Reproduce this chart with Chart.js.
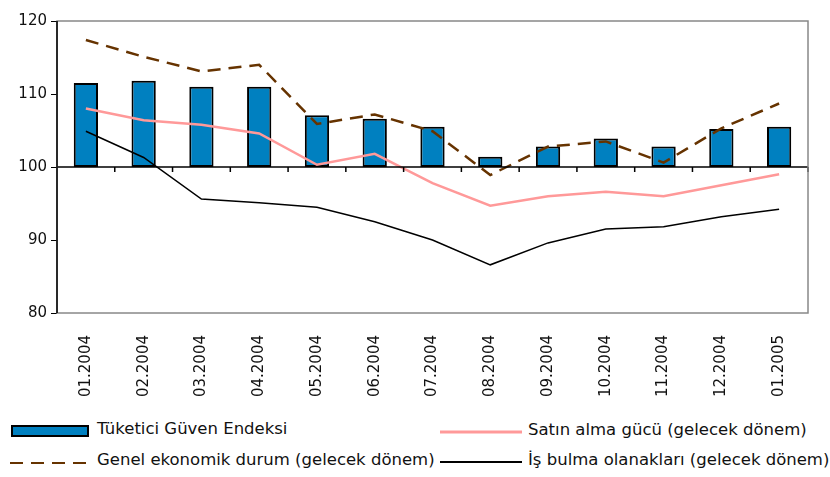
<!DOCTYPE html>
<html>
<head>
<meta charset="utf-8">
<script src="https://cdn.jsdelivr.net/npm/chart.js@4"></script>
<style>
  body { margin: 0; background: #fff; font-family: "DejaVu Sans", sans-serif; }
  #wrap { position: relative; width: 830px; height: 477px; }
  #box { position: absolute; left: 0; top: 0; width: 830px; height: 400px; }
  .leg { position: absolute; font-size: 16.5px; line-height: 20px; color: #111; white-space: nowrap; font-family: "DejaVu Sans", sans-serif; }
  .sw { position: absolute; }
</style>
</head>
<body>
<div id="wrap">
  <div id="box"><canvas id="chart"></canvas></div>
  <div class="sw" style="left:11px;top:425px;width:74px;height:8px;background:#0080C0;border:2px solid #000;"></div>
  <div class="leg" style="left:97px;top:419px;">Tüketici Güven Endeksi</div>
  <svg class="sw" style="left:440px;top:429px;" width="82" height="6"><line x1="0" y1="3" x2="82" y2="3" stroke="#FF9999" stroke-width="3"/></svg>
  <div class="leg" style="left:528px;top:420px;">Satın alma gücü (gelecek dönem)</div>
  <svg class="sw" style="left:10px;top:460px;" width="80" height="6"><line x1="0" y1="3" x2="80" y2="3" stroke="#663300" stroke-width="2" stroke-dasharray="13 8"/></svg>
  <div class="leg" style="left:97px;top:450px;">Genel ekonomik durum (gelecek dönem)</div>
  <svg class="sw" style="left:440px;top:459px;" width="82" height="6"><line x1="0" y1="3" x2="82" y2="3" stroke="#000" stroke-width="2"/></svg>
  <div class="leg" style="left:528px;top:450px;">İş bulma olanakları (gelecek dönem)</div>
</div>
<script>
const months = ['01.2004', '02.2004', '03.2004', '04.2004', '05.2004', '06.2004', '07.2004',
  '08.2004', '09.2004', '10.2004', '11.2004', '12.2004', '01.2005'];
const guvenEndeksi = [111.5, 111.8, 111.0, 111.0, 107.1, 106.6, 105.5, 101.4, 102.8, 103.9, 102.8, 105.2, 105.5];
const satinAlma = [108.0, 106.4, 105.8, 104.6, 100.3, 101.8, 97.8, 94.7, 96.0, 96.6, 96.0, 97.5, 99.0];
const genelDurum = [117.4, 115.1, 113.1, 114.0, 105.9, 107.2, 104.9, 98.9, 102.8, 103.5, 100.6, 105.3, 108.7];
const isBulma = [104.9, 101.3, 95.6, 95.1, 94.5, 92.5, 90.0, 86.6, 89.6, 91.5, 91.8, 93.2, 94.2];
const baseLine = 100;
const yTicks = [80, 90, 100, 110, 120];

// ---------- axis line at 100 with category ticks ----------
const baseAxisPlugin = {
  id: 'baseAxis',
  afterDatasetsDraw(chart) {
    const { ctx, chartArea, scales } = chart;
    const y = scales.y.getPixelForValue(baseLine);
    const step = scales.x.getPixelForValue(1) - scales.x.getPixelForValue(0);
    ctx.save();
    ctx.strokeStyle = '#000';
    ctx.lineWidth = 1.5;
    ctx.beginPath();
    ctx.moveTo(chartArea.left, y);
    ctx.lineTo(chartArea.right, y);
    months.forEach((m, i) => {
      const x = scales.x.getPixelForValue(i) + step / 2;
      ctx.moveTo(x, y);
      ctx.lineTo(x, y + 5);
    });
    ctx.stroke();
    // plot frame
    ctx.strokeStyle = '#888';
    ctx.lineWidth = 1.5;
    ctx.strokeRect(chartArea.left, chartArea.top, chartArea.right - chartArea.left, chartArea.bottom - chartArea.top);
    ctx.strokeStyle = '#000';
    ctx.beginPath();
    ctx.moveTo(chartArea.left, chartArea.top);
    ctx.lineTo(chartArea.left, chartArea.bottom);
    ctx.stroke();
    ctx.restore();
  }
};

new Chart(document.getElementById('chart'), {
  data: {
    labels: months,
    datasets: [
      { type: 'line', label: 'İş bulma olanakları (gelecek dönem)', data: isBulma,
        borderColor: '#000', borderWidth: 1.5, pointRadius: 0, tension: 0, order: 1 },
      { type: 'line', label: 'Genel ekonomik durum (gelecek dönem)', data: genelDurum,
        borderColor: '#663300', borderWidth: 2.5, borderDash: [13, 8], pointRadius: 0, tension: 0, order: 2 },
      { type: 'line', label: 'Satın alma gücü (gelecek dönem)', data: satinAlma,
        borderColor: '#FF9999', borderWidth: 2.5, pointRadius: 0, tension: 0, order: 3 },
      { type: 'bar', label: 'Tüketici Güven Endeksi', data: guvenEndeksi.map(v => [baseLine, v]),
        backgroundColor: '#0080C0', borderColor: '#000', borderWidth: 2, borderSkipped: false,
        barPercentage: 0.42, categoryPercentage: 1, order: 4 }
    ]
  },
  options: {
    responsive: true,
    maintainAspectRatio: false,
    animation: false,
    layout: { padding: { top: 21, right: 22, left: 0, bottom: 0 } },
    plugins: { legend: { display: false }, tooltip: { enabled: false } },
    scales: {
      x: {
        grid: { display: false },
        border: { display: false },
        ticks: { maxRotation: 90, minRotation: 90, color: '#111', padding: 14,
          font: { family: 'DejaVu Sans', size: 15 } },
        afterFit(scale) { scale.height = 87; }
      },
      y: {
        min: 80, max: 120,
        afterBuildTicks(scale) { scale.ticks = yTicks.map(v => ({ value: v })); },
        grid: { drawOnChartArea: false, drawTicks: true, tickLength: 6, color: '#000' },
        border: { display: false },
        ticks: { color: '#111', padding: 4, font: { family: 'DejaVu Sans', size: 15 } },
        afterFit(scale) { scale.width = 57; }
      }
    }
  },
  plugins: [baseAxisPlugin]
});
</script>
</body>
</html>
